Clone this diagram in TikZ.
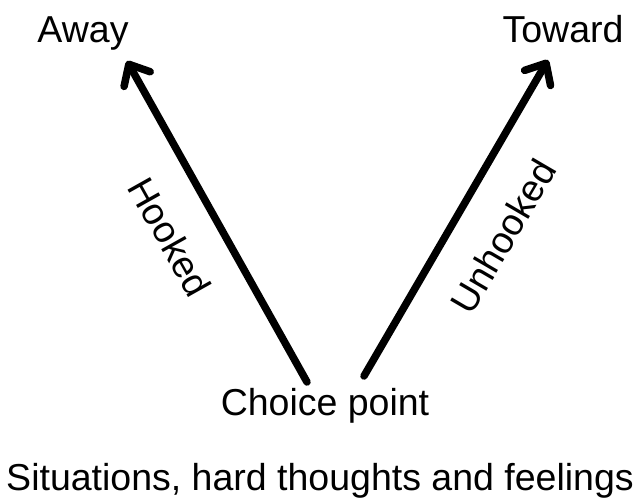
\documentclass[tikz,border=0pt]{standalone}
\usepackage{fontspec}
\setmainfont{Liberation Sans}
\usetikzlibrary{arrows.meta,positioning}
\definecolor{ink}{HTML}{000000}
\tikzset{lbl/.style={text=ink,inner sep=0pt,font=\fontsize{37.5}{44}\selectfont},
  arr/.style={draw=ink,line width=7.5pt,line cap=round,
    -{Straight Barb[length=17pt,width=30pt,round]}}}

\begin{document}
\begin{tikzpicture}[x=1pt,y=-1pt]
\useasboundingbox (0,0) rectangle (639,499);
\node[lbl,anchor=base] (away) at (83,42) {Away};
\node[lbl,anchor=base] (toward) at (563,42) {Toward};
\node[lbl,anchor=base] (choice) at (325,415) {Choice point};
\node[lbl,anchor=base] (situations) at (320,490) {Situations, hard thoughts and feelings};
\coordinate (hookbase) at (307,382);
\coordinate (hooktip) at (127,61);
\coordinate (unhookbase) at (364,376);
\coordinate (unhooktip) at (548,60);
\draw[arr] (hookbase) -- (hooktip);
\draw[arr] (unhookbase) -- (unhooktip);
\node[lbl,rotate=-60.75] (hooked) at (170,237) {Hooked};
\node[lbl,rotate=59.7] (unhooked) at (503,236) {Unhooked};
\end{tikzpicture}
\end{document}
